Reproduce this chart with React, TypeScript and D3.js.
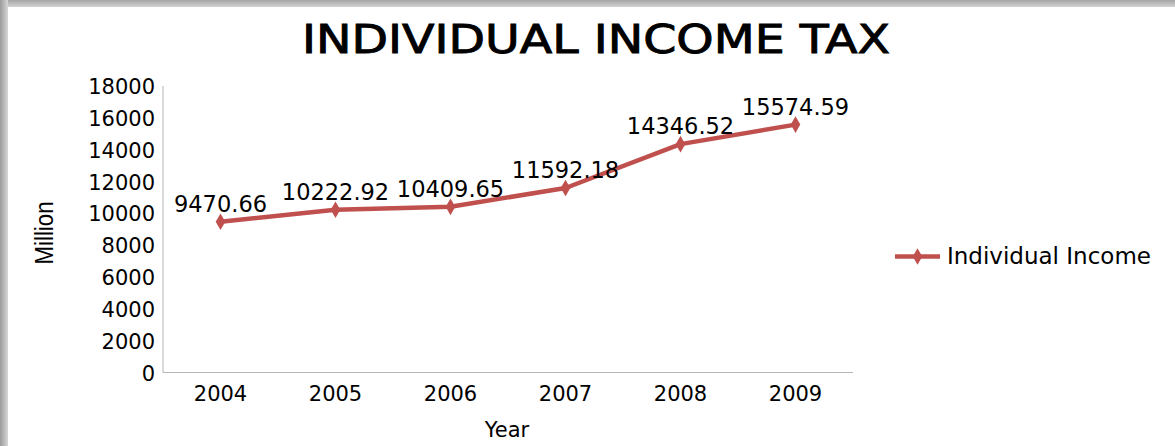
import React from "react";
import * as d3 from "d3";

const years = ["2004", "2005", "2006", "2007", "2008", "2009"];
const values = [9470.66, 10222.92, 10409.65, 11592.18, 14346.52, 15574.59];
const valueLabels = ["9470.66", "10222.92", "10409.65", "11592.18", "14346.52", "15574.59"];
const yTicks = [0, 2000, 4000, 6000, 8000, 10000, 12000, 14000, 16000, 18000];
const seriesName = "Individual Income";
const title = "INDIVIDUAL INCOME TAX";

const W = 1175;
const H = 446;
const LINE = "#c0504d";
const FONT = "'DejaVu Sans', Verdana, sans-serif";

export default function App() {
  const x = d3.scaleBand<string>().domain(years).range([163, 853]);
  const y = d3.scaleLinear().domain([0, 18000]).range([372.5, 86]);
  const cx = (d: string) => (x(d) as number) + x.bandwidth() / 2;
  const line = d3
    .line<number>()
    .x((_, i) => cx(years[i]))
    .y((v) => y(v));
  const diamond = d3.symbol().type(d3.symbolDiamond).size(80)() as string;

  return (
    <svg
      width={W}
      height={H}
      style={{ position: "absolute", left: 0, top: 0, background: "#fff" }}
    >
      <defs>
        <linearGradient id="gl" x1="0" x2="1" y1="0" y2="0">
          <stop offset="0" stopColor="#9a9a9a" />
          <stop offset="1" stopColor="#d8d8d8" />
        </linearGradient>
        <linearGradient id="gt" x1="0" x2="0" y1="0" y2="1">
          <stop offset="0" stopColor="#a6a6a6" />
          <stop offset="1" stopColor="#d2d2d2" />
        </linearGradient>
      </defs>
      <rect x={0} y={0} width={W} height={H} fill="#fff" />
      <rect x={0} y={0} width={W} height={7} fill="url(#gt)" />
      <rect x={0} y={0} width={8} height={H} fill="url(#gl)" />

      <text
        x={596}
        y={53}
        textAnchor="middle"
        fontFamily={FONT}
        fontSize={39}
        textLength={588}
        lengthAdjust="spacingAndGlyphs"
        fill="#000"
        stroke="#000"
        strokeWidth={0.9}
      >
        {title}
      </text>

      {/* axes */}
      <line x1={163} x2={163} y1={y(18000)} y2={y(0)} stroke="#b5b5b5" strokeWidth={1} />
      <line x1={163} x2={853} y1={y(0)} y2={y(0)} stroke="#b5b5b5" strokeWidth={1.2} />

      {yTicks.map((t) => (
        <text
          key={t}
          x={155}
          y={y(t) + 8}
          textAnchor="end"
          fontFamily={FONT}
          fontSize={21}
          fill="#000"
        >
          {t}
        </text>
      ))}
      {years.map((yr) => (
        <text
          key={yr}
          x={cx(yr)}
          y={401}
          textAnchor="middle"
          fontFamily={FONT}
          fontSize={21}
          fill="#000"
        >
          {yr}
        </text>
      ))}

      <text
        x={507}
        y={437}
        textAnchor="middle"
        fontFamily={FONT}
        fontSize={21}
        fill="#000"
      >
        Year
      </text>
      <text
        transform="translate(53,233) rotate(-90)"
        textAnchor="middle"
        fontFamily="'Liberation Sans Narrow', 'Liberation Sans', Arial, sans-serif"
        fontSize={25}
        textLength={63}
        lengthAdjust="spacingAndGlyphs"
        fill="#000"
      >
        Million
      </text>

      <path d={line(values) as string} fill="none" stroke={LINE} strokeWidth={4.5} strokeLinejoin="round" />
      {values.map((v, i) => (
        <path key={i} d={diamond} transform={`translate(${cx(years[i])},${y(v)})`} fill={LINE} />
      ))}
      {values.map((v, i) => (
        <text
          key={"l" + i}
          x={cx(years[i])}
          y={y(v) - 10}
          textAnchor="middle"
          fontFamily={FONT}
          fontSize={22.5}
          fill="#000"
        >
          {valueLabels[i]}
        </text>
      ))}

      {/* legend */}
      <line x1={895} x2={940} y1={256.5} y2={256.5} stroke={LINE} strokeWidth={4.5} />
      <path d={diamond} transform="translate(917.5,256.5)" fill={LINE} />
      <text x={947} y={264} fontFamily={FONT} fontSize={23} fill="#000">
        {seriesName}
      </text>
    </svg>
  );
}
